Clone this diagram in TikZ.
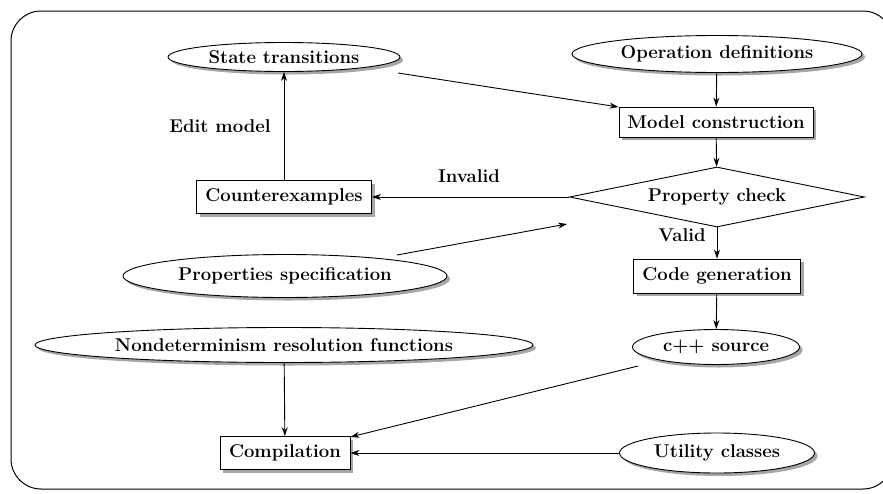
\documentclass[tikz,border=0pt]{standalone}
\usetikzlibrary{shapes.geometric,shadows,arrows.meta}
\begin{document}
\begin{tikzpicture}[x=1pt,y=-1pt,
  font=\fontsize{18.5}{22}\selectfont\bfseries,
  shd/.style={drop shadow={shadow xshift=3pt,shadow yshift=-3pt,fill=black!50,opacity=0.7}},
  ell/.style={draw,ellipse,inner sep=0pt,fill=white,shd,line width=0.9pt},
  box/.style={draw,rectangle,inner sep=0pt,fill=white,shd,line width=0.9pt},
  dia/.style={draw,diamond,aspect=4.9,inner sep=0pt,fill=white,line width=0.9pt},
  arr/.style={-{Stealth[length=9pt,width=6pt]},line width=0.9pt},
  lbl/.style={inner sep=0pt}]
\useasboundingbox (0,0) rectangle (883,493);
\draw[line width=1pt,rounded corners=30pt] (11,11) rectangle (893,489);
\node[ell,minimum width=232pt,minimum height=29pt] (st) at (284,57) {State transitions};
\node[ell,minimum width=290pt,minimum height=37pt] (od) at (717,54) {Operation definitions};
\node[box,minimum width=194pt,minimum height=30pt] (mc) at (716,122) {Model construction};
\node[dia,minimum width=295pt,minimum height=60pt] (pc) at (717,197) {Property check};
\node[box,minimum width=175pt,minimum height=33pt] (ce) at (284,197) {Counterexamples};
\node[ell,minimum width=324pt,minimum height=43pt] (ps) at (285,276) {Properties specification};
\node[box,minimum width=167pt,minimum height=34pt] (cg) at (717,276) {Code generation};
\node[ell,minimum width=167pt,minimum height=35pt] (cpp) at (716,347) {c++ source};
\node[ell,minimum width=498pt,minimum height=35pt] (nd) at (284,345) {Nondeterminism resolution functions};
\node[box,minimum width=130pt,minimum height=33pt] (comp) at (285,453) {Compilation};
\node[ell,minimum width=195pt,minimum height=40pt] (uc) at (717,453) {Utility classes};
\node[lbl] (em) at (220,126) {Edit model};
\node[lbl] (inv) at (469,176) {Invalid};
\node[lbl] (val) at (682,235) {Valid};
\coordinate (stout) at (398,73);
\coordinate (psout) at (397,255);
\coordinate (pcin) at (567,224);
\coordinate (cppout) at (638,366);
\draw[arr] (stout) -- (mc);
\draw[arr] (od) -- (mc);
\draw[arr] (mc) -- (pc);
\draw[arr] (pc) -- (ce);
\draw[arr] (ce) -- (st);
\draw[arr] (psout) -- (pcin);
\draw[arr] (pc) -- (cg);
\draw[arr] (cg) -- (cpp);
\draw[arr] (cppout) -- (comp);
\draw[arr] (nd) -- (comp);
\draw[arr] (uc) -- (comp);
\end{tikzpicture}
\end{document}
